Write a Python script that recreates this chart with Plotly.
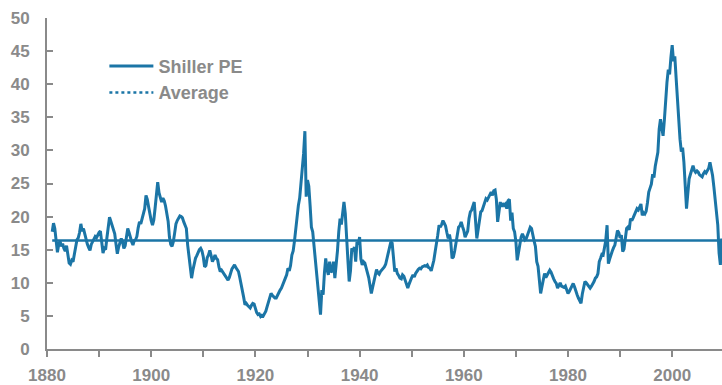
import plotly.graph_objects as go

# Shiller cyclically adjusted P/E, quarterly readings (Q1..Q4 per year)
first_year = 1881
pe_1881_1910 = [
    17.7, 19.0, 18.2, 16.5,  14.6, 15.8, 16.3, 15.5,  15.9, 15.2, 14.8, 15.6,
    14.5, 13.0, 12.8, 13.4,  13.2, 14.2, 15.6, 16.5,  16.8, 17.6, 18.9, 17.8,
    18.2, 17.4, 16.3, 15.8,  15.3, 14.9, 15.8, 16.3,  16.5, 17.0, 16.8, 17.3,
    17.6, 17.8, 16.2, 14.5,  15.2, 15.0, 16.8, 18.2,  19.9, 19.3, 18.6, 17.8,
    17.4, 15.8, 14.4, 15.4,  16.1, 16.7, 16.2, 15.2,  15.6, 16.9, 18.2, 17.6,
    16.8, 16.2, 15.7, 16.4,  16.5, 17.0, 18.3, 19.2,  18.9, 19.6, 20.4, 21.2,
    23.2, 22.6, 21.5, 20.3,  19.4, 18.7, 19.5, 21.3,  23.4, 25.2, 23.6, 22.8,
    22.2, 22.8, 22.4, 21.6,  20.7, 19.3, 16.9, 15.8,  15.5, 16.2, 17.5, 18.9,
    19.4, 19.9, 20.1, 20.0,  19.8, 19.2, 18.7, 18.2,  15.7, 14.2, 12.8, 10.7,
    11.9, 12.9, 13.7, 14.1,  14.6, 15.0, 15.2, 14.8,  13.9, 12.4, 12.6, 13.8,
]
pe_1911_1940 = [
    14.2, 14.9, 14.1, 13.2,  13.6, 14.2, 13.7, 13.5,  12.4, 11.7, 11.9, 11.6,
    11.4, 11.0, 10.6, 10.4,  10.8, 11.5, 12.1, 12.4,  12.7, 12.3, 12.0, 11.7,
    10.8, 9.6, 8.7, 7.8,     6.7, 6.9, 6.6, 6.4,      6.2, 6.6, 6.9, 6.8,
    6.1, 5.5, 5.2, 5.3,      4.9, 5.1, 5.0, 5.4,      5.7, 6.4, 7.2, 7.8,
    8.4, 8.1, 7.8, 7.7,      7.7, 8.2, 8.5, 8.9,      9.2, 9.8, 10.4, 10.7,
    11.2, 12.2, 11.8, 12.6,  14.2, 14.8, 16.3, 18.2,  19.4, 21.7, 22.8, 25.0,
    27.7, 29.5, 32.9, 23.0,  25.5, 24.6, 21.7, 18.4,  17.7, 15.6, 14.2, 11.2,
    9.2, 6.8, 5.2, 8.9,      8.2, 11.5, 13.7, 12.0,   11.2, 13.2, 11.6, 11.8,
    13.2, 10.7, 12.5, 14.8,  17.7, 19.7, 18.8, 20.6,  22.2, 20.5, 17.7, 13.5,
    10.2, 11.8, 15.2, 14.8,  15.4, 13.2, 16.2, 15.8,  16.9, 13.6, 12.7, 13.2,
]
pe_1941_1970 = [
    13.0, 12.2, 11.8, 10.8,  9.6, 8.4, 9.3, 10.2,    11.2, 12.0, 11.5, 11.3,
    11.7, 11.9, 12.2, 12.4,  12.8, 13.7, 14.2, 15.3,  16.2, 16.0, 13.4, 11.7,
    12.2, 11.4, 11.1, 10.7,  10.6, 11.2, 11.0, 10.3,  9.9, 9.2, 9.8, 10.4,
    10.8, 11.2, 10.9, 11.4,  11.8, 12.0, 12.2, 12.1,  12.4, 12.5, 12.6, 12.5,
    12.7, 12.3, 12.2, 11.8,  12.5, 13.4, 14.7, 15.8,  17.2, 18.7, 18.4, 18.8,
    19.4, 19.0, 18.6, 17.6,  16.7, 17.3, 16.2, 13.7,  13.9, 14.8, 16.2, 17.4,
    18.4, 18.6, 19.2, 18.5,  17.9, 16.9, 17.4, 17.8,  19.7, 20.7, 21.0, 21.6,
    22.2, 19.4, 16.7, 18.0,  19.2, 20.7, 20.9, 21.4,  22.0, 22.7, 22.5, 23.0,
    23.4, 23.7, 23.2, 23.9,  24.0, 22.6, 19.2, 20.5,  22.2, 21.5, 22.0, 21.7,
    21.9, 21.2, 22.4, 22.6,  19.4, 20.6, 18.2, 17.7,  16.2, 13.4, 14.6, 15.8,
]
pe_1971_2009 = [
    16.9, 17.4, 16.8, 16.5,  16.7, 17.3, 17.6, 18.4,  18.2, 17.0, 16.3, 15.5,
    13.2, 12.5, 10.2, 8.4,   9.4, 10.7, 11.4, 10.8,   11.2, 11.7, 11.9, 11.6,
    11.0, 10.6, 10.2, 9.9,   9.2, 9.7, 10.0, 9.5,     9.4, 9.3, 9.5, 9.0,
    8.4, 8.7, 9.2, 9.6,      9.9, 9.4, 8.6, 8.2,      7.7, 7.3, 6.9, 8.3,
    9.4, 10.2, 10.0, 9.7,    9.6, 9.2, 9.5, 9.8,      10.2, 10.7, 10.9, 11.4,
    13.2, 13.7, 14.3, 14.2,  15.2, 16.4, 18.7, 12.9,  13.6, 14.4, 14.8, 15.3,
    15.7, 16.8, 17.9, 17.6,  16.8, 17.2, 14.7, 15.1,  16.4, 18.2, 18.4, 18.0,
    19.7, 19.4, 19.8, 20.3,  20.8, 21.2, 21.0, 21.5,  21.9, 20.2, 20.6, 20.4,
    20.8, 22.1, 23.7, 24.3,  24.9, 26.4, 25.9, 27.6,  28.8, 29.7, 33.2, 34.7,
    33.4, 32.2, 34.6, 38.2,  40.3, 42.2, 41.5, 44.0,  45.9, 43.5, 44.2, 41.0,
    37.2, 33.5, 31.7, 29.8,  30.4, 28.2, 24.0, 21.2,  23.5, 25.7, 26.4, 27.0,
    27.7, 27.0, 26.7, 26.9,  26.7, 26.3, 26.2, 26.0,  26.5, 26.8, 26.6, 27.1,
    27.3, 28.2, 27.4, 26.2,  24.5, 22.7, 20.5, 18.7,  14.5, 12.7, 16.7,
]
pe_average = 16.4

x_ticks = list(range(1880, 2011, 10))
x_tick_text = [str(y) if (y - 1880) % 20 == 0 else "" for y in x_ticks]

pe_values = pe_1881_1910 + pe_1911_1940 + pe_1941_1970 + pe_1971_2009
pe_dates = [first_year + i / 4 for i in range(len(pe_values))]

blue = "#1b75a6"
grey = "#8a8a8a"
font_family = "Liberation Sans, Arial, sans-serif"

fig = go.Figure()
fig.add_trace(go.Scatter(
    x=pe_dates, y=pe_values, mode="lines", name="Shiller PE",
    line=dict(color=blue, width=3), legendgroup="a",
))
fig.add_trace(go.Scatter(
    x=[pe_dates[0], pe_dates[-1]], y=[pe_average, pe_average], mode="lines",
    line=dict(color=blue, width=2.5), showlegend=False, hoverinfo="skip",
))
fig.add_trace(go.Scatter(
    x=[None], y=[None], mode="lines", name="Average",
    line=dict(color=blue, width=2.5, dash="dot"), legendgroup="b",
))

axis_font = dict(family=font_family, size=17, color=grey, weight="bold")
fig.update_layout(
    width=722, height=385,
    margin=dict(l=47, r=0, t=18, b=34),
    plot_bgcolor="white", paper_bgcolor="white",
    showlegend=True,
    legend=dict(
        x=0.085, y=0.91, xanchor="left", yanchor="top",
        bgcolor="rgba(0,0,0,0)", font=dict(family=font_family, size=18, color=grey, weight="bold"),
        tracegroupgap=0, itemwidth=44,
    ),
    xaxis=dict(
        range=[1880, 2009.56], tickmode="array", tickvals=x_ticks, ticktext=x_tick_text,
        showline=True, linecolor=grey, linewidth=2, ticks="outside", ticklen=6,
        tickwidth=2, tickcolor=grey, showgrid=False, zeroline=False,
        tickfont=axis_font, ticklabelstandoff=4,
    ),
    yaxis=dict(
        range=[0, 50], dtick=5, tick0=0, showline=True, linecolor=grey, linewidth=2,
        ticks="inside", ticklen=6, tickwidth=2, tickcolor=grey, showgrid=False,
        zeroline=False, tickfont=axis_font, ticklabelstandoff=12,
    ),
)

fig.write_html("out.html")
